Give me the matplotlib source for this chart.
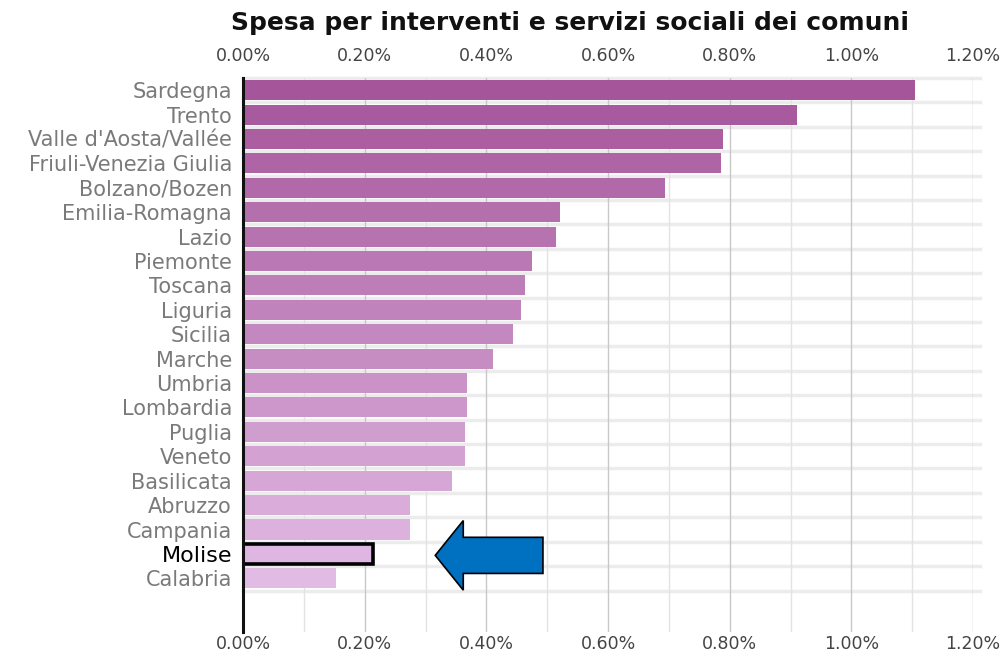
import matplotlib.pyplot as plt
import numpy as np
from matplotlib.colors import LinearSegmentedColormap
from matplotlib.patches import FancyArrow
from matplotlib.ticker import FuncFormatter, MultipleLocator, FixedLocator

# Spesa per interventi e servizi sociali dei comuni (% del PIL)
regioni = ["Sardegna", "Trento", "Valle d'Aosta/Vallée", "Friuli-Venezia Giulia",
           "Bolzano/Bozen", "Emilia-Romagna", "Lazio", "Piemonte", "Toscana",
           "Liguria", "Sicilia", "Marche", "Umbria", "Lombardia", "Puglia",
           "Veneto", "Basilicata", "Abruzzo", "Campania", "Molise", "Calabria"]
spesa = [1.105, 0.911, 0.789, 0.786, 0.694, 0.521, 0.515, 0.475, 0.464,
         0.457, 0.444, 0.411, 0.368, 0.368, 0.365, 0.365, 0.344, 0.275,
         0.275, 0.214, 0.153]
tick_x = [0.0, 0.2, 0.4, 0.6, 0.8, 1.0, 1.2]
evidenziata = "Molise"

fig = plt.figure(figsize=(10.06, 6.58), dpi=100)
ax = fig.add_axes([0.2416, 0.0395, 0.7256, 0.842])

cmap = LinearSegmentedColormap.from_list("viola", ["#a5559a", "#e2bbe5"])
n = len(regioni)
pos = np.arange(n)
colori = [cmap(i / (n - 1)) for i in range(n)]

bars = ax.barh(pos, spesa, height=0.82, color=colori, zorder=3)
i_mol = regioni.index(evidenziata)
bars[i_mol].set_edgecolor("black")
bars[i_mol].set_linewidth(2.6)

# righe chiare tra le categorie
for b in np.arange(-0.5, n + 0.5, 1.0):
    ax.axhline(b, color="#ececec", lw=2.5, zorder=1, xmax=1.01, clip_on=False)

pct = FuncFormatter(lambda v, p: f"{v:.2f}%")
ax.set_xlim(0, 1.2)
ax.set_ylim(22.2, -0.5)
ax.xaxis.set_major_locator(FixedLocator(tick_x))
ax.xaxis.set_minor_locator(MultipleLocator(0.1))
ax.xaxis.set_major_formatter(pct)
ax.grid(axis="x", which="major", color="#c8c8c8", lw=1.0, zorder=0)
ax.grid(axis="x", which="minor", color="#e3e3e3", lw=1.0, zorder=0)
ax.tick_params(axis="x", which="both", length=0, labelsize=12.5,
               labelcolor="#444444", pad=2)

ax.set_yticks(pos)
ax.set_yticklabels(regioni)
ax.tick_params(axis="y", length=0, labelsize=15, labelcolor="#7a7a7a", pad=8)
lab = ax.get_yticklabels()[i_mol]
lab.set_color("black")
lab.set_fontsize(16)

for s in ["top", "right", "bottom"]:
    ax.spines[s].set_visible(False)
ax.spines["left"].set_linewidth(2.2)
ax.spines["left"].set_color("#111111")
ax.spines["left"].set_zorder(4)

top = ax.secondary_xaxis("top")
top.xaxis.set_major_locator(FixedLocator(tick_x))
top.xaxis.set_minor_locator(FixedLocator([]))
top.xaxis.set_major_formatter(pct)
top.tick_params(length=0, labelsize=12.5, labelcolor="#444444", pad=9)
top.spines["top"].set_visible(False)

fig.text(0.567, 0.965, "Spesa per interventi e servizi sociali dei comuni",
         ha="center", va="center", fontsize=18, fontweight="bold",
         color="#111111")

# freccia blu che indica il Molise
arrow = FancyArrow(0.493, i_mol + 0.06, -0.177, 0, width=1.48,
                   head_width=2.85, head_length=0.046,
                   length_includes_head=True, facecolor="#0070c0",
                   edgecolor="black", lw=1.2, zorder=5)
ax.add_patch(arrow)

fig.savefig("out.png", dpi=100)
